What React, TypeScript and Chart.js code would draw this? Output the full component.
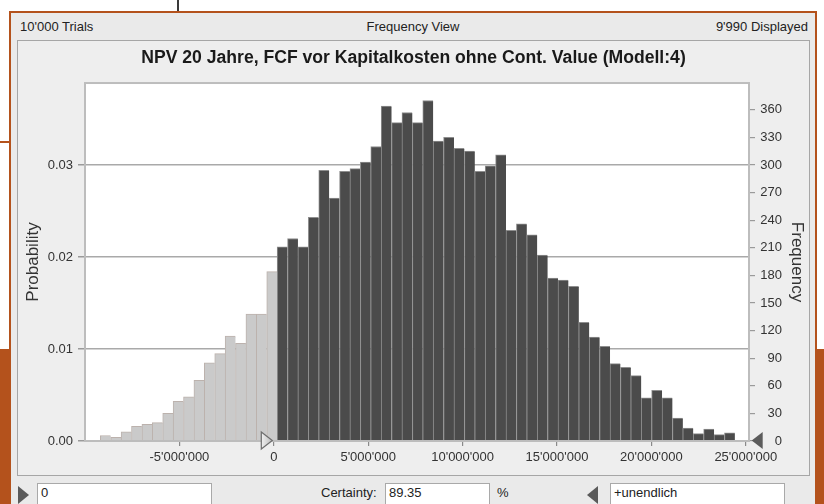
import React, { useEffect, useRef } from 'react';
import { Chart, registerables } from 'chart.js';

Chart.register(...registerables);

const FONT = '"Liberation Sans", Arial, Helvetica, sans-serif';
const ORANGE = '#b4521c';

// Histogram parameters (bin edges in currency units)
const binStart = -9.19e6;
const binWidth = 0.551e6;
// Frequencies of bins below the certainty bound (light grey)
const belowZeroFreq = [6, 4, 10, 16, 18, 20, 30, 43, 48, 66, 85, 95, 114, 106, 138, 138, 184];
// Frequencies of bins above the certainty bound (dark grey)
const aboveZeroFreq = [
  211, 220, 211, 243, 294, 264, 293, 296, 303, 320,
  364, 346, 357, 346, 370, 326, 330, 318, 315, 293,
  299, 311, 229, 236, 224, 202, 177, 175, 168, 129,
  113, 103, 84, 80, 71, 47, 55, 47, 25, 14,
  8, 13, 7, 9,
];
const xTicks = [-5e6, 0, 5e6, 10e6, 15e6, 20e6, 25e6];
const probTicks = [0, 0.01, 0.02, 0.03];
const freqTicks = [0, 30, 60, 90, 120, 150, 180, 210, 240, 270, 300, 330, 360];
const xMin = -10e6;
const xMax = 25.17e6;
const probMax = 0.0389;
const freqMax = 389;
const certaintyLower = 0;

const titleText = 'NPV 20 Jahre, FCF vor Kapitalkosten ohne Cont. Value (Modell:4)';

function fmtNum(v: number): string {
  const s = Math.round(Math.abs(v)).toString().replace(/\B(?=(\d{3})+(?!\d))/g, "'");
  return (v < 0 ? '-' : '') + s;
}

const plotFrame = {
  id: 'plotFrame',
  beforeDraw(chart: any) {
    const { ctx, chartArea: a } = chart;
    ctx.save();
    ctx.fillStyle = '#ffffff';
    ctx.fillRect(a.left, a.top, a.right - a.left, a.bottom - a.top);
    ctx.restore();
  },
  afterDatasetsDraw(chart: any) {
    const { ctx, chartArea: a } = chart;
    ctx.save();
    ctx.strokeStyle = '#bdbdbd';
    ctx.lineWidth = 2;
    ctx.strokeRect(a.left, a.top, a.right - a.left, a.bottom - a.top);
    ctx.restore();
  },
  afterDraw(chart: any) {
    const { ctx, chartArea: a } = chart;
    const xs = chart.scales.x;
    const y = a.bottom - 0.5;
    ctx.save();
    // left grabber (outlined, pointing right)
    const tip = xs.getPixelForValue(certaintyLower) - 1.5;
    const g = ctx.createLinearGradient(tip - 11, 0, tip, 0);
    g.addColorStop(0, '#f0f0f0');
    g.addColorStop(1, '#bdbdbd');
    ctx.beginPath();
    ctx.moveTo(tip - 11, y - 8.5);
    ctx.lineTo(tip, y);
    ctx.lineTo(tip - 11, y + 8.5);
    ctx.closePath();
    ctx.fillStyle = g;
    ctx.fill();
    ctx.strokeStyle = '#6e6e6e';
    ctx.lineWidth = 1.2;
    ctx.stroke();
    // right grabber (filled, pointing left)
    const tip2 = a.right + 2.7;
    ctx.beginPath();
    ctx.moveTo(tip2 + 11, y - 8.5);
    ctx.lineTo(tip2, y);
    ctx.lineTo(tip2 + 11, y + 8.5);
    ctx.closePath();
    ctx.fillStyle = '#5c5c5c';
    ctx.fill();
    ctx.restore();
  },
};

function HistogramChart() {
  const ref = useRef<HTMLCanvasElement | null>(null);
  useEffect(() => {
    if (!ref.current) return;
    Chart.defaults.font.family = FONT;
    const lightData = belowZeroFreq.map((f, i) => ({ x: binStart + (i + 0.5) * binWidth, y: f }));
    const off = belowZeroFreq.length;
    const darkData = aboveZeroFreq.map((f, i) => ({ x: binStart + (off + i + 0.5) * binWidth, y: f }));
    const chart = new Chart(ref.current, {
      type: 'bar',
      data: {
        datasets: [
          {
            data: lightData as any,
            backgroundColor: '#cacaca',
            borderColor: '#bcb2ad',
            borderWidth: { left: 1, right: 0, top: 1, bottom: 0 } as any,
            borderSkipped: false,
            grouped: false,
            barPercentage: 1,
            categoryPercentage: 1,
            xAxisID: 'x',
            yAxisID: 'yF',
          },
          {
            data: darkData as any,
            backgroundColor: '#4b4b4b',
            borderColor: '#8e8e8e',
            borderWidth: { left: 1, right: 0, top: 1, bottom: 0 } as any,
            borderSkipped: false,
            grouped: false,
            barPercentage: 1,
            categoryPercentage: 1,
            xAxisID: 'x',
            yAxisID: 'yF',
          },
        ],
      },
      options: {
        responsive: false,
        animation: false,
        events: [],
        layout: { padding: 0 },
        plugins: {
          legend: { display: false },
          tooltip: { enabled: false },
          title: {
            display: true,
            text: titleText,
            color: '#1a1a1a',
            font: { size: 17.6, weight: 'bold' },
            padding: { top: 7.5, bottom: 14.4 },
          },
        },
        scales: {
          x: {
            type: 'linear',
            position: 'bottom',
            min: xMin,
            max: xMax,
            offset: false,
            afterBuildTicks: (s: any) => {
              s.ticks = xTicks.map((v) => ({ value: v }));
            },
            afterFit: (s: any) => {
              s.height = 35;
            },
            ticks: {
              callback: (v: any) => fmtNum(Number(v)),
              color: '#333333',
              font: { size: 13 },
              padding: 4,
              maxRotation: 0,
              autoSkip: false,
            },
            grid: { drawOnChartArea: false, offset: false, tickLength: 5, tickColor: '#8a8a8a', lineWidth: 1.2 },
            border: { display: false },
          },
          yP: {
            type: 'linear',
            position: 'left',
            min: 0,
            max: probMax,
            afterBuildTicks: (s: any) => {
              s.ticks = probTicks.map((v) => ({ value: v }));
            },
            afterFit: (s: any) => {
              s.width = 68;
            },
            ticks: {
              callback: (v: any) => Number(v).toFixed(2),
              color: '#333333',
              font: { size: 13 },
              padding: 5,
            },
            grid: { color: '#a9a9a9', lineWidth: 1.5, tickLength: 7, tickColor: '#9a9a9a' },
            border: { display: false },
            title: {
              display: true,
              text: 'Probability',
              color: '#333333',
              font: { size: 17 },
              padding: { top: 6, bottom: 0 },
            },
          },
          yF: {
            type: 'linear',
            position: 'right',
            weight: 0,
            min: 0,
            max: freqMax,
            afterBuildTicks: (s: any) => {
              s.ticks = freqTicks.map((v) => ({ value: v }));
            },
            afterFit: (s: any) => {
              s.width = 33;
            },
            ticks: {
              color: '#333333',
              font: { size: 13 },
              crossAlign: 'far',
              padding: 5,
            },
            grid: { drawOnChartArea: false, tickLength: 6, tickColor: '#9a9a9a', lineWidth: 1.2 },
            border: { display: false },
          },
          yT: {
            type: 'linear',
            position: 'right',
            weight: 1,
            min: 0,
            max: 1,
            afterFit: (s: any) => {
              s.width = 28;
            },
            ticks: { display: false },
            grid: { display: false },
            border: { display: false },
            title: {
              display: true,
              text: 'Frequency',
              color: '#333333',
              font: { size: 17 },
              padding: { top: 3, bottom: 0 },
            },
          },
        },
      } as any,
      plugins: [plotFrame],
    });
    return () => chart.destroy();
  }, []);
  return (
    <canvas
      ref={ref}
      width={793}
      height={436}
      style={{ position: 'absolute', left: 17, top: 40, width: 793, height: 436 }}
    />
  );
}

const textStyle: React.CSSProperties = {
  position: 'absolute',
  fontFamily: FONT,
  fontSize: 13,
  color: '#222',
  lineHeight: '16px',
  whiteSpace: 'nowrap',
};

const inputStyle: React.CSSProperties = {
  position: 'absolute',
  top: 483,
  height: 26,
  background: '#ffffff',
  border: '1px solid #a9a9a9',
  boxSizing: 'border-box',
  fontFamily: FONT,
  fontSize: 13,
  color: '#222',
  lineHeight: '18px',
  paddingLeft: 3,
};

export default function App() {
  return (
    <div
      style={{
        position: 'fixed',
        left: 0,
        top: 0,
        width: 824,
        height: 504,
        overflow: 'hidden',
        background: '#ffffff',
        fontFamily: FONT,
      }}
    >
      {/* slide decoration */}
      <div style={{ position: 'absolute', left: 177, top: 0, width: 2, height: 12, background: '#3a3a3a' }} />
      <div style={{ position: 'absolute', left: 0, top: 141, width: 10, height: 2, background: ORANGE }} />
      <div style={{ position: 'absolute', left: 0, top: 349, width: 11, height: 155, background: ORANGE }} />
      <div style={{ position: 'absolute', left: 814, top: 349, width: 10, height: 155, background: ORANGE }} />
      {/* window */}
      <div
        style={{
          position: 'absolute',
          left: 9,
          top: 11,
          width: 808,
          height: 500,
          border: `2px solid ${ORANGE}`,
          background: '#eaeaea',
          boxSizing: 'border-box',
        }}
      />
      {/* header */}
      <div style={{ ...textStyle, left: 20, top: 19 }}>10'000 Trials</div>
      <div style={{ ...textStyle, left: 313, top: 19, width: 200, textAlign: 'center' }}>Frequency View</div>
      <div style={{ ...textStyle, right: 16, top: 19 }}>9'990 Displayed</div>
      {/* chart panel */}
      <div
        style={{
          position: 'absolute',
          left: 17,
          top: 40,
          width: 793,
          height: 436,
          border: '1px solid #a6a6a6',
          background: '#eeeeee',
          boxSizing: 'border-box',
        }}
      />
      <HistogramChart />
      {/* footer */}
      <div
        style={{
          position: 'absolute',
          left: 18,
          top: 486,
          width: 0,
          height: 0,
          borderTop: '9px solid transparent',
          borderBottom: '9px solid transparent',
          borderLeft: '11px solid #5a5a5a',
        }}
      />
      <div style={{ ...inputStyle, left: 37, width: 175 }}>0</div>
      <div style={{ ...textStyle, left: 321, top: 485 }}>Certainty:</div>
      <div style={{ ...inputStyle, left: 385, width: 105 }}>89.35</div>
      <div style={{ ...textStyle, left: 497, top: 485 }}>%</div>
      <div
        style={{
          position: 'absolute',
          left: 587,
          top: 486,
          width: 0,
          height: 0,
          borderTop: '9px solid transparent',
          borderBottom: '9px solid transparent',
          borderRight: '11px solid #5a5a5a',
        }}
      />
      <div style={{ ...inputStyle, left: 610, width: 175 }}>+unendlich</div>
    </div>
  );
}
